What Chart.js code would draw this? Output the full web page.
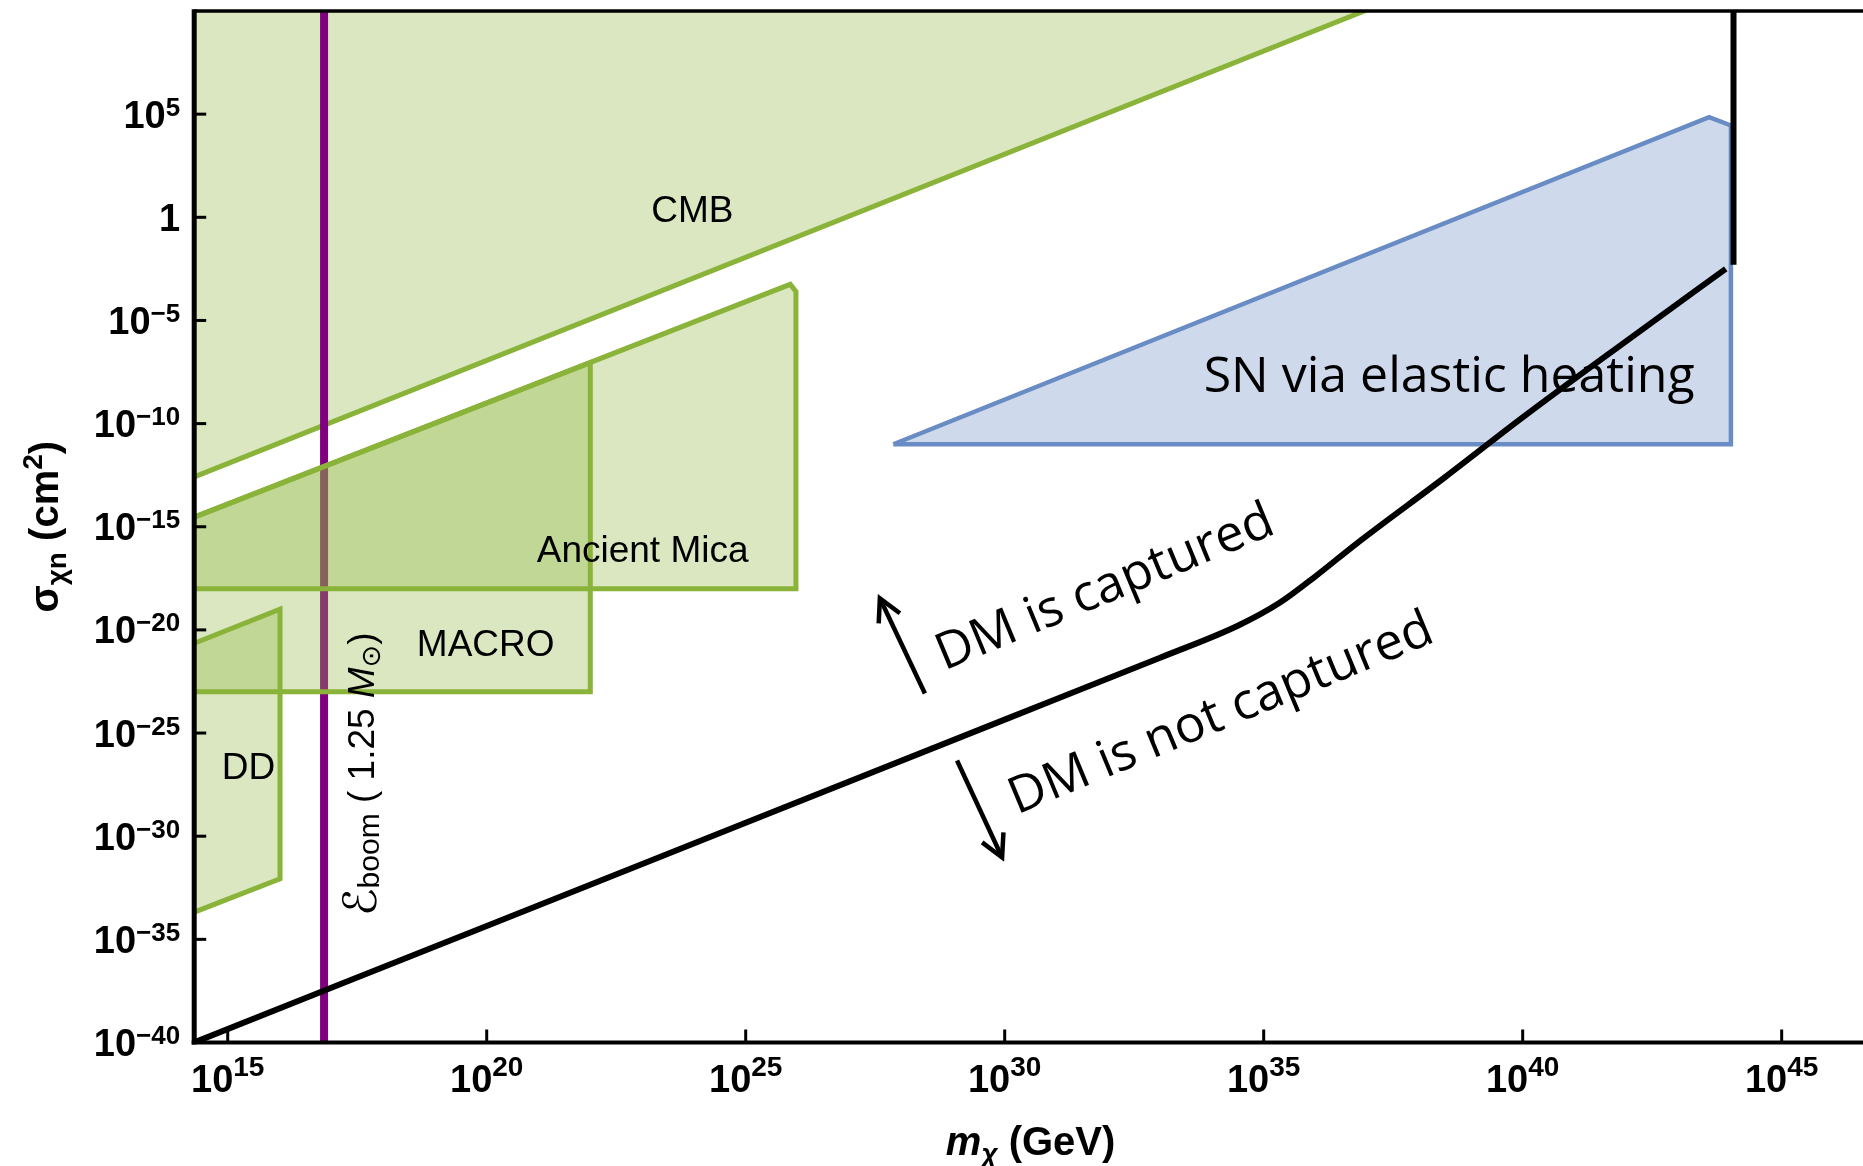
<!DOCTYPE html>
<html>
<head>
<meta charset="utf-8">
<script src="https://cdn.jsdelivr.net/npm/chart.js@4.4.1/dist/chart.umd.min.js"></script>
<style>
  html, body { margin: 0; padding: 0; background: #fff; }
  canvas { display: block; }
</style>
</head>
<body>
<canvas id="c" width="1863" height="1166"></canvas>
<script>
// every number below is a log10 exponent
var xTickExps = [15, 20, 25, 30, 35, 40, 45];
var yTickExps = [-40, -35, -30, -25, -20, -15, -10, -5, 0, 5];
var xRange = [14.353, 46.57];
var yRange = [-40, 10];

// capture threshold (black)
var capM = [14.0, 20, 25, 30, 33, 34.5, 35.3, 36.0, 36.8, 38.5, 40, 42, 43.92];
var capS = [-40.35, -34.35, -29.35, -24.35, -21.35, -19.8, -18.7, -17.4, -15.8, -12.6, -9.7, -6.0, -2.5];
var capEdgeM = [44.07, 44.07];
var capEdgeS = [-2.3, 11];

// E_boom (1.25 Msun)
var boomM = [16.86, 16.86];
var boomS = [-41, 11];

// excluded regions
var cmbM = [13, 37.94, 13, 13];
var cmbS = [-13.94, 11, 11, -13.94];
var micaM = [13, 25.86, 25.97, 25.97, 13, 13];
var micaS = [-15.86, -3.25, -3.6, -18.0, -18.0, -15.86];
var macroM = [13, 22.0, 22.0, 13, 13];
var macroS = [-15.86, -7.05, -23.0, -23.0, -15.86];
var ddM = [13, 16.01, 16.01, 13, 13];
var ddS = [-22.0, -19.0, -32.07, -35.0, -22.0];
var snM = [27.85, 43.6, 44.02, 44.02, 27.85];
var snS = [-11, 4.85, 4.45, -11, -11];

function pts(ms, ss) {
  return ms.map(function (m, i) { return {x: Math.pow(10, m), y: Math.pow(10, ss[i])}; });
}

var GREEN = '#8ab33a', GREEN_FILL = 'rgba(140,180,60,0.32)';
var SANS = '"Liberation Sans", Arial, "DejaVu Sans", sans-serif';
var CAL = '"Open Sans", "Noto Sans", sans-serif';

function region(label, ms, ss, order) {
  return {label: label, data: pts(ms, ss), borderColor: GREEN, backgroundColor: GREEN_FILL,
    borderWidth: 5, fill: 'shape', order: order, clip: 0, borderJoinStyle: 'miter'};
}

var datasets = [
  {label: 'capture', data: pts(capM, capS), borderColor: '#000', borderWidth: 6, fill: false,
    cubicInterpolationMode: 'monotone', order: 0, clip: 0},
  {label: 'capture edge', data: pts(capEdgeM, capEdgeS), borderColor: '#000', borderWidth: 6, fill: false, order: 0, clip: 0},
  {label: 'SN', data: pts(snM, snS), borderColor: '#6a8cc4', backgroundColor: 'rgba(106,140,196,0.33)',
    borderWidth: 4.5, fill: 'shape', order: 1, clip: 0, borderJoinStyle: 'miter'},
  region('DD', ddM, ddS, 2),
  region('MACRO', macroM, macroS, 3),
  region('Ancient Mica', micaM, micaS, 4),
  {label: 'boom', data: pts(boomM, boomS), borderColor: '#800080', borderWidth: 8, fill: false, order: 5, clip: 0},
  region('CMB', cmbM, cmbS, 6)
];

// annotation anchors (data coordinates, log10)
var notes = [
  {t: 'CMB', m: 23.97, s: 0.27},
  {t: 'Ancient Mica', m: 23.01, s: -16.2},
  {t: 'MACRO', m: 19.98, s: -20.76},
  {t: 'DD', m: 15.40, s: -26.75}
];
var arrows = [[28.46, -23.08, 27.59, -18.47], [29.08, -26.33, 29.95, -31.03]];

function line(ctx, x1, y1, x2, y2) { ctx.beginPath(); ctx.moveTo(x1, y1); ctx.lineTo(x2, y2); ctx.stroke(); }

function runs(ctx, parts, x, y, ang) {
  var w = 0;
  parts.forEach(function (p) { ctx.font = p[1]; p.w = ctx.measureText(p[0]).width; w += p.w; });
  ctx.save();
  ctx.translate(x, y); ctx.rotate(ang);
  ctx.textAlign = 'left'; ctx.textBaseline = 'alphabetic';
  var cx = -w / 2;
  parts.forEach(function (p) { ctx.font = p[1]; ctx.fillText(p[0], cx, p[2] || 0); cx += p.w; });
  ctx.restore();
}

function pow10(ctx, e, x, y, align, bf, sf, rise) {
  var base = e === 0 ? '1' : '10', sup = e === 0 ? '' : String(e).replace('-', '\u2212');
  ctx.font = bf; var wb = ctx.measureText(base).width;
  ctx.font = sf; var ws = ctx.measureText(sup).width;
  var x0 = align === 'right' ? x - wb - ws : x - (wb + ws) / 2;
  ctx.textAlign = 'left'; ctx.textBaseline = 'alphabetic';
  ctx.font = bf; ctx.fillText(base, x0, y);
  ctx.font = sf; ctx.fillText(sup, x0 + wb, y - rise);
}

var decor = {
  id: 'decor',
  beforeDraw: function (chart) {
    var ctx = chart.ctx;
    ctx.save(); ctx.fillStyle = '#fff'; ctx.fillRect(0, 0, chart.width, chart.height); ctx.restore();
  },
  afterDraw: function (chart) {
    var ctx = chart.ctx, a = chart.chartArea, sx = chart.scales.x, sy = chart.scales.y;
    var px = function (e) { return sx.getPixelForValue(Math.pow(10, e)); };
    var py = function (e) { return sy.getPixelForValue(Math.pow(10, e)); };
    ctx.save();
    ctx.fillStyle = '#000'; ctx.strokeStyle = '#000';

    // region labels
    ctx.textAlign = 'center'; ctx.textBaseline = 'middle';
    ctx.font = '37px ' + SANS;
    notes.forEach(function (n) { ctx.fillText(n.t, px(n.m), py(n.s)); });
    ctx.font = '50px ' + CAL;
    ctx.fillText('SN via elastic heating', px(38.58), py(-7.8));

    // E_boom label, rotated
    runs(ctx, [
      ['\u2130', '46px ' + SANS, 2],
      ['boom', '30px ' + SANS, 5],
      [' ( 1.25 ', '37px ' + SANS],
      ['M', 'italic 37px ' + SANS],
      ['\u2299', '27px ' + SANS, 6],
      [')', '37px ' + SANS]
    ], px(17.82), py(-27.0), -Math.PI / 2);

    // capture annotations
    var ang = -22.5 * Math.PI / 180;
    ctx.save(); ctx.textAlign = 'center'; ctx.textBaseline = 'middle'; ctx.font = '51px ' + CAL;
    ctx.translate(px(31.94), py(-17.99)); ctx.rotate(ang); ctx.fillText('DM is captured', 0, 0);
    ctx.restore();
    ctx.save(); ctx.textAlign = 'center'; ctx.textBaseline = 'middle'; ctx.font = '51px ' + CAL;
    ctx.translate(px(34.18), py(-24.1)); ctx.rotate(ang); ctx.fillText('DM is not captured', 0, 0);
    ctx.restore();

    ctx.lineWidth = 4.5; ctx.lineCap = 'butt'; ctx.lineJoin = 'miter';
    arrows.forEach(function (r) {
      var x1 = px(r[0]), y1 = py(r[1]), x2 = px(r[2]), y2 = py(r[3]);
      line(ctx, x1, y1, x2, y2);
      var t = Math.atan2(y1 - y2, x1 - x2), L = 25, h = 28 * Math.PI / 180;
      ctx.beginPath();
      ctx.moveTo(x2 + L * Math.cos(t - h), y2 + L * Math.sin(t - h));
      ctx.lineTo(x2, y2);
      ctx.lineTo(x2 + L * Math.cos(t + h), y2 + L * Math.sin(t + h));
      ctx.stroke();
    });

    // frame and inward ticks
    ctx.lineCap = 'butt';
    ctx.lineWidth = 3.4; line(ctx, a.left, a.top, a.right, a.top);
    ctx.lineWidth = 5; line(ctx, a.left, a.top - 1.7, a.left, a.bottom + 2);
    ctx.lineWidth = 4; line(ctx, a.left - 2.5, a.bottom, a.right, a.bottom);
    ctx.lineWidth = 3;
    yTickExps.forEach(function (e) { line(ctx, a.left, py(e), a.left + 12, py(e)); });
    xTickExps.forEach(function (e) { line(ctx, px(e), a.bottom, px(e), a.bottom - 13); });

    // tick labels
    yTickExps.forEach(function (e) {
      pow10(ctx, e, a.left - 14, py(e) + 13.5, 'right', 'bold 38px ' + SANS, 'bold 26px ' + SANS, 12);
    });
    xTickExps.forEach(function (e) {
      pow10(ctx, e, px(e), a.bottom + 49.5, 'center', 'bold 38px ' + SANS, 'bold 28px ' + SANS, 16);
    });

    // axis titles
    runs(ctx, [
      ['m', 'italic bold 40px ' + SANS],
      ['\u03c7', 'italic bold 28px ' + SANS, 8],
      [' (GeV)', 'bold 40px ' + SANS]
    ], (a.left + a.right) / 2 + 2, a.bottom + 112, 0);
    runs(ctx, [
      ['\u03c3', 'bold 40px ' + SANS],
      ['\u03c7n', 'bold 28px ' + SANS, 8],
      [' (cm', 'bold 40px ' + SANS],
      ['2', 'bold 28px ' + SANS, -16],
      [')', 'bold 40px ' + SANS]
    ], a.left - 136, (a.top + a.bottom) / 2, -Math.PI / 2);

    ctx.restore();
  }
};

new Chart(document.getElementById('c').getContext('2d'), {
  type: 'line',
  data: {datasets: datasets},
  options: {
    responsive: false,
    animation: false,
    devicePixelRatio: 1,
    layout: {padding: {top: 11, right: 0, left: 0, bottom: 0}},
    elements: {point: {radius: 0}, line: {tension: 0}},
    plugins: {legend: {display: false}, tooltip: {enabled: false}},
    scales: {
      x: {
        type: 'logarithmic', min: Math.pow(10, xRange[0]), max: Math.pow(10, xRange[1]),
        grid: {display: false}, border: {display: false}, ticks: {display: false},
        afterBuildTicks: function (s) { s.ticks = xTickExps.map(function (e) { return {value: Math.pow(10, e)}; }); },
        afterFit: function (s) { s.height = 123.5; }
      },
      y: {
        type: 'logarithmic', min: Math.pow(10, yRange[0]), max: Math.pow(10, yRange[1]),
        grid: {display: false}, border: {display: false}, ticks: {display: false},
        afterBuildTicks: function (s) { s.ticks = yTickExps.map(function (e) { return {value: Math.pow(10, e)}; }); },
        afterFit: function (s) { s.width = 194.2; }
      }
    }
  },
  plugins: [decor]
});
</script>
</body>
</html>
